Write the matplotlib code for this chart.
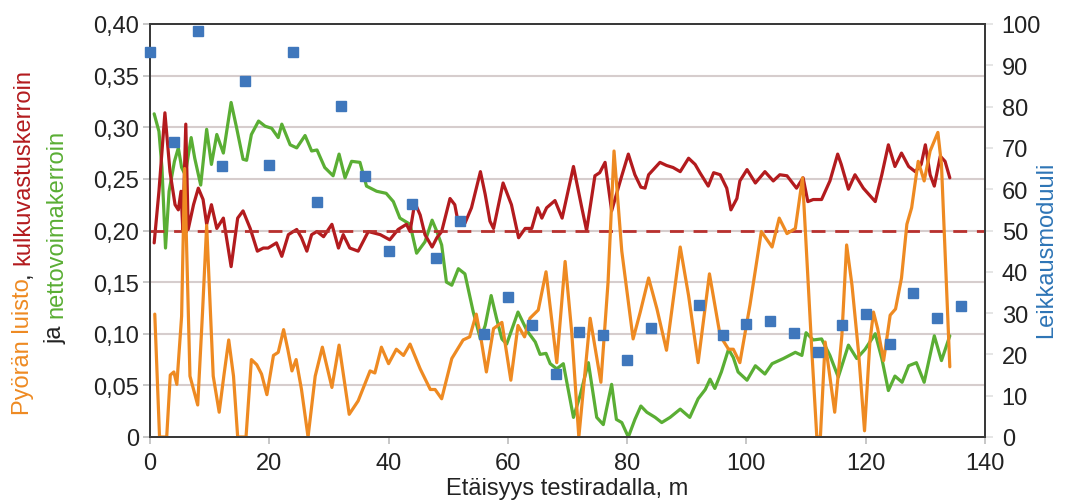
import matplotlib
matplotlib.use("Agg")
import matplotlib.pyplot as plt
from matplotlib.ticker import FixedLocator, FuncFormatter

plt.rcParams['font.family'] = ['Liberation Sans', 'DejaVu Sans']

# ---------------- data ----------------
slip_x = [0.8, 1.6, 2.8, 3.4, 4.0, 4.5, 5.3, 5.8, 6.7, 8.0, 8.8, 9.5, 10.6, 11.6, 12.4,
          13.2, 14.0, 14.7, 16.1, 17.0, 17.9, 18.7, 19.6, 20.7, 21.5, 22.4, 23.1, 23.8,
          24.5, 25.4, 26.5, 27.7, 28.9, 30.5, 31.7, 33.4, 34.9, 36.9, 37.7, 38.8, 40.0,
          41.3, 42.5, 43.6, 45.3, 47.0, 47.8, 48.9, 50.6, 52.5, 53.6, 54.7, 55.5, 56.4,
          57.6, 59.0, 60.5, 61.7, 62.8, 63.7, 65.1, 66.4, 68.2, 69.6, 70.7, 71.9, 73.8,
          75.6, 76.8, 77.8, 79.1, 81.0, 82.2, 83.6, 85.0, 86.6, 88.9, 90.3, 91.9, 93.8,
          95.6, 97.0, 97.8, 98.9, 100.6, 102.5, 104.3, 105.5, 106.8, 108.2, 109.4, 111.0,
          111.8, 112.4, 113.2, 114.8, 116.0, 116.8, 117.7, 118.8, 119.8, 120.7, 121.3,
          122.0, 123.0, 124.1, 125.0, 126.0, 126.9, 127.7, 128.8, 129.8, 130.8, 132.1,
          132.7, 133.3, 134.1]
slip_y = [0.119, 0.0, 0.0, 0.060, 0.063, 0.051, 0.117, 0.260, 0.059, 0.031, 0.120, 0.205,
          0.059, 0.024, 0.060, 0.094, 0.059, 0.0, 0.0, 0.075, 0.070, 0.061, 0.041, 0.079,
          0.082, 0.104, 0.085, 0.064, 0.075, 0.046, 0.0, 0.059, 0.087, 0.048, 0.089, 0.022,
          0.035, 0.064, 0.062, 0.087, 0.071, 0.085, 0.079, 0.090, 0.066, 0.046, 0.046,
          0.037, 0.076, 0.094, 0.097, 0.119, 0.095, 0.063, 0.105, 0.111, 0.055, 0.108,
          0.097, 0.115, 0.123, 0.160, 0.072, 0.170, 0.102, 0.0, 0.115, 0.053, 0.150, 0.277,
          0.180, 0.095, 0.121, 0.154, 0.124, 0.084, 0.184, 0.137, 0.072, 0.158, 0.098,
          0.085, 0.085, 0.072, 0.128, 0.199, 0.184, 0.212, 0.197, 0.202, 0.251, 0.080,
          0.0, 0.0, 0.092, 0.024, 0.098, 0.186, 0.147, 0.082, 0.006, 0.092, 0.121, 0.105,
          0.074, 0.118, 0.124, 0.154, 0.206, 0.222, 0.267, 0.248, 0.277, 0.295, 0.264,
          0.180, 0.068]

resist_x = [0.7, 1.5, 2.5, 3.35, 4.2, 4.75, 5.2, 5.5, 6.0, 6.4, 7.3, 8.1, 8.9, 9.5, 10.3,
            11.2, 12.3, 13.6, 14.7, 15.6, 16.8, 18.0, 19.0, 19.8, 21.2, 22.1, 23.2, 24.6,
            25.4, 26.3, 27.1, 28.0, 29.1, 30.5, 31.6, 32.4, 33.5, 34.9, 36.6, 38.6, 40.2,
            41.6, 43.0, 43.6, 44.4, 45.3, 46.1, 47.3, 48.1, 48.9, 50.3, 51.1, 51.7, 52.8,
            53.9, 55.4, 56.2, 57.0, 57.6, 59.2, 60.6, 61.8, 62.9, 64.0, 65.0, 65.7, 66.5,
            67.9, 69.1, 71.0, 72.4, 73.2, 74.6, 75.4, 76.3, 77.4, 79.1, 80.2, 81.3, 82.3,
            83.0, 83.6, 85.5, 86.6, 87.7, 88.9, 90.3, 91.4, 92.2, 93.6, 94.5, 95.6, 96.7,
            97.4, 98.4, 98.9, 100.1, 101.5, 103.1, 104.5, 105.6, 106.8, 108.4, 109.5,
            110.3, 111.2, 112.6, 114.0, 115.3, 115.9, 117.1, 118.2, 119.6, 121.6, 122.7,
            123.8, 124.9, 126.0, 127.2, 128.3, 129.3, 130.0, 130.8, 131.5, 132.5, 133.3,
            134.1]
resist_y = [0.188, 0.238, 0.314, 0.257, 0.225, 0.220, 0.238, 0.201, 0.303, 0.201, 0.225,
            0.241, 0.230, 0.206, 0.225, 0.202, 0.212, 0.165, 0.212, 0.219, 0.202, 0.180,
            0.183, 0.183, 0.188, 0.175, 0.196, 0.201, 0.193, 0.180, 0.196, 0.199, 0.194,
            0.206, 0.183, 0.196, 0.183, 0.180, 0.199, 0.196, 0.191, 0.201, 0.206, 0.199,
            0.227, 0.215, 0.196, 0.184, 0.193, 0.199, 0.231, 0.225, 0.207, 0.207, 0.222,
            0.257, 0.235, 0.209, 0.202, 0.246, 0.225, 0.193, 0.202, 0.202, 0.222, 0.212,
            0.222, 0.229, 0.212, 0.262, 0.222, 0.200, 0.253, 0.256, 0.266, 0.219, 0.253,
            0.274, 0.254, 0.242, 0.241, 0.254, 0.266, 0.263, 0.261, 0.257, 0.270, 0.264,
            0.256, 0.243, 0.256, 0.254, 0.241, 0.220, 0.231, 0.248, 0.259, 0.246, 0.257,
            0.248, 0.254, 0.253, 0.241, 0.251, 0.228, 0.230, 0.230, 0.248, 0.274, 0.264,
            0.240, 0.254, 0.241, 0.228, 0.254, 0.283, 0.262, 0.275, 0.262, 0.257, 0.264,
            0.283, 0.254, 0.243, 0.272, 0.267, 0.251]

traction_x = [0.7, 1.5, 2.0, 2.6, 3.2, 4.1, 4.75, 5.3, 5.9, 6.9, 7.5, 8.5, 9.5, 10.3, 11.2,
              12.3, 13.6, 14.5, 15.6, 16.2, 17.0, 18.2, 19.3, 20.4, 21.5, 22.1, 23.5, 24.6,
              26.0, 27.1, 28.0, 29.3, 30.7, 31.7, 32.7, 33.8, 35.2, 36.3, 38.0, 39.6, 40.8,
              41.9, 43.6, 44.7, 46.1, 47.3, 48.1, 48.9, 49.7, 50.6, 51.7, 52.8, 54.2, 55.4,
              56.2, 57.2, 58.1, 59.0, 59.8, 61.7, 63.2, 64.6, 65.4, 66.4, 67.1, 68.2, 69.3,
              71.0, 72.1, 73.5, 74.9, 76.0, 77.4, 78.2, 79.1, 80.2, 81.3, 82.3, 83.3, 84.7,
              85.8, 87.2, 88.9, 90.5, 91.9, 93.1, 93.9, 94.7, 95.8, 97.0, 97.8, 98.6, 100.1,
              101.5, 103.1, 104.3, 106.2, 108.2, 109.3, 110.0, 111.2, 112.6, 114.0, 115.4,
              117.1, 118.5, 119.9, 121.6, 122.7, 123.8, 124.9, 126.1, 127.2, 128.5, 129.8,
              131.5, 132.7, 134.1]
traction_y = [0.313, 0.296, 0.261, 0.183, 0.238, 0.267, 0.280, 0.261, 0.254, 0.290, 0.270,
              0.244, 0.298, 0.264, 0.293, 0.275, 0.324, 0.300, 0.269, 0.268, 0.293, 0.306,
              0.301, 0.299, 0.290, 0.303, 0.283, 0.280, 0.292, 0.277, 0.278, 0.261, 0.253,
              0.274, 0.251, 0.267, 0.266, 0.243, 0.238, 0.236, 0.228, 0.212, 0.206, 0.178,
              0.189, 0.210, 0.199, 0.186, 0.150, 0.147, 0.163, 0.158, 0.121, 0.095, 0.108,
              0.137, 0.115, 0.095, 0.090, 0.121, 0.103, 0.092, 0.080, 0.081, 0.071, 0.066,
              0.071, 0.019, 0.040, 0.072, 0.019, 0.012, 0.051, 0.017, 0.014, 0.0, 0.017,
              0.030, 0.024, 0.019, 0.014, 0.019, 0.027, 0.019, 0.037, 0.046, 0.056, 0.047,
              0.063, 0.085, 0.077, 0.063, 0.055, 0.069, 0.061, 0.071, 0.076, 0.082, 0.079,
              0.101, 0.094, 0.095, 0.079, 0.058, 0.089, 0.076, 0.085, 0.100, 0.076, 0.045,
              0.059, 0.053, 0.069, 0.072, 0.053, 0.098, 0.074, 0.098]

modulus_x = [0, 4, 8, 12, 16, 20, 24, 28, 32, 36, 40, 44, 48, 52, 56, 60, 64, 68, 72, 76,
             80, 84, 92, 96, 100, 104, 108, 112, 116, 120, 124, 128, 132, 136]
modulus_y = [93.2, 71.4, 98.3, 65.6, 86.2, 65.9, 93.2, 56.9, 80.1, 63.2, 45.0, 56.4, 43.3,
             52.4, 24.9, 34.0, 27.0, 15.2, 25.5, 24.8, 18.7, 26.5, 32.0, 24.7, 27.4, 28.2,
             25.2, 20.7, 27.0, 29.9, 22.5, 34.9, 28.7, 31.8]

reference_level = 0.20
left_ticks = [0, 0.05, 0.10, 0.15, 0.20, 0.25, 0.30, 0.35, 0.40]
right_ticks = list(range(0, 101, 10))
x_ticks = list(range(0, 141, 20))

# ---------------- style ----------------
C_ORANGE = '#EE8A22'
C_RED = '#B31B1E'
C_GREEN = '#5AAE34'
C_BLUE = '#3F77BC'
C_GRID = '#D6CDCD'
C_SPINE = '#3A3A3A'
C_TICK = '#BDBDBD'
FS = 17
LW = 2.3

W, H = 1075, 502
fig = plt.figure(figsize=(W / 100, H / 100), dpi=100)
ax = fig.add_axes([150 / W, 1 - 438 / H, (985 - 150) / W, (438 - 25) / H])

ax.set_xlim(0, 140)
ax.set_ylim(0, 0.40)
for gy in left_ticks[1:-1]:
    ax.axhline(gy, color=C_GRID, lw=1.5, zorder=0.5)

ax.plot(traction_x, traction_y, color=C_GREEN, lw=LW, zorder=2,
        solid_joinstyle='round', solid_capstyle='round')
ax.plot(resist_x, resist_y, color=C_RED, lw=LW, zorder=3,
        solid_joinstyle='round', solid_capstyle='round')
ax.plot(slip_x, slip_y, color=C_ORANGE, lw=LW, zorder=4,
        solid_joinstyle='round', solid_capstyle='round')
ax.axhline(reference_level, color='#B8302E', lw=2, dashes=(5, 3.5), zorder=3.5)

ax.xaxis.set_major_locator(FixedLocator(x_ticks))
ax.yaxis.set_major_locator(FixedLocator(left_ticks))
ax.yaxis.set_major_formatter(FuncFormatter(
    lambda v, p: '0' if abs(v) < 1e-9 else f'{v:.2f}'.replace('.', ',')))
ax.tick_params(axis='both', labelsize=FS, colors=C_TICK, labelcolor='#222222',
               length=5, width=1.2)
ax.tick_params(axis='x', pad=6)
ax.tick_params(axis='y', pad=3)
for s in ax.spines.values():
    s.set_color(C_SPINE)
    s.set_linewidth(1.4)

ax2 = ax.twinx()
ax2.set_ylim(0, 100)
ax2.yaxis.set_major_locator(FixedLocator(right_ticks))
ax2.tick_params(axis='y', labelsize=FS, colors='#E0E0E0', labelcolor='#222222',
                length=6, width=1.2, pad=6)
for s in ax2.spines.values():
    s.set_color(C_SPINE)
    s.set_linewidth(1.4)
ax2.plot(modulus_x, modulus_y, linestyle='none', marker='s', markersize=6.5,
         color=C_BLUE, clip_on=False, zorder=5)

fig.text(1046 / W, 1 - 250 / H, 'Leikkausmoduuli', color='#2E75B6', fontsize=FS,
         rotation=90, ha='center', va='center')
fig.text(567 / W, 1 - 489 / H, 'Etäisyys testiradalla, m', color='#222222', fontsize=FS,
         ha='center', va='center')

# ---------------- multicolour left label ----------------
fig.canvas.draw()
renderer = fig.canvas.get_renderer()


def text_len(s):
    t = fig.text(0, 0, s, fontsize=FS, rotation=90)
    h = t.get_window_extent(renderer).height
    t.remove()
    return h


def multicolor_vertical(pieces, xc, yc):
    full = ''.join(p for p, _ in pieces)
    total = text_len(full)
    y0 = yc - total / 2
    prefix = ''
    for piece, col in pieces:
        if piece.strip():
            start = text_len(prefix + piece) - text_len(piece.strip()) if prefix else 0
            fig.text(xc / W, (y0 + start) / H, piece.strip(), fontsize=FS, rotation=90,
                     color=col, ha='center', va='bottom')
        prefix += piece


multicolor_vertical([('Pyörän luisto', C_ORANGE), (',', '#222222'),
                     (' kulkuvastuskerroin', C_RED)], 23, H - 242)
multicolor_vertical([('ja', '#222222'), (' nettovoimakerroin', C_GREEN)], 56, H - 237)

fig.savefig('out.png', dpi=100)
